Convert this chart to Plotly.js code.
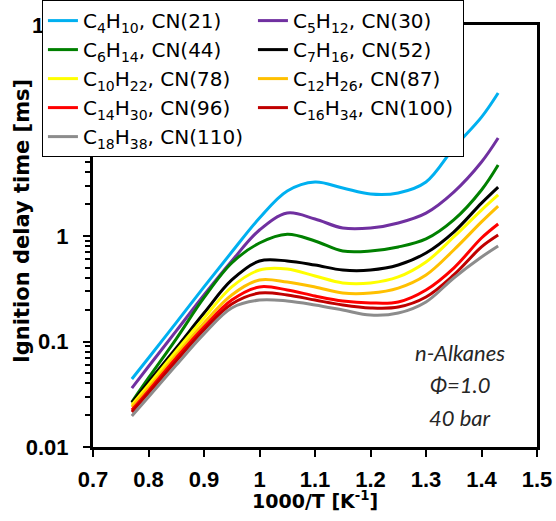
<!DOCTYPE html>
<html>
<head>
<meta charset="utf-8">
<script src="https://cdn.plot.ly/plotly-3.0.1.min.js"></script>
<style>
html,body{margin:0;padding:0;background:#fff;}
#chart{width:556px;height:521px;}
</style>
</head>
<body>
<div id="chart"></div>
<script>
// 1000/T [1/K]
const invT = [0.77, 0.80, 0.85, 0.90, 0.95, 1.00, 1.05, 1.10, 1.15, 1.20, 1.25, 1.30, 1.35, 1.40, 1.43];

// Ignition delay times [ms]
const C4H10  = [0.0441, 0.0698, 0.151, 0.329, 0.705, 1.48, 2.67, 3.25, 2.85, 2.50, 2.56, 3.25, 6.83, 13.4, 22.7];
const C5H12  = [0.0362, 0.058, 0.126, 0.276, 0.580, 1.14, 1.65, 1.45, 1.19, 1.19, 1.33, 1.65, 2.61, 5.03, 8.49];
const C6H14  = [0.0267, 0.0451, 0.106, 0.260, 0.555, 0.858, 1.04, 0.897, 0.721, 0.721, 0.787, 0.937, 1.42, 2.73, 4.71];
const C7H16  = [0.0263, 0.0413, 0.0868, 0.186, 0.383, 0.580, 0.580, 0.531, 0.476, 0.476, 0.531, 0.690, 1.09, 2.05, 2.91];
const C10H22 = [0.0250, 0.0387, 0.0813, 0.167, 0.329, 0.476, 0.487, 0.418, 0.359, 0.359, 0.409, 0.567, 0.979, 1.76, 2.45];
const C12H26 = [0.0239, 0.0362, 0.0745, 0.150, 0.276, 0.383, 0.366, 0.329, 0.288, 0.288, 0.321, 0.427, 0.737, 1.36, 1.92];
const C14H30 = [0.0224, 0.0340, 0.0698, 0.137, 0.247, 0.329, 0.308, 0.270, 0.242, 0.232, 0.237, 0.308, 0.497, 0.957, 1.30];
const C16H34 = [0.0215, 0.0325, 0.0653, 0.129, 0.227, 0.288, 0.276, 0.247, 0.222, 0.208, 0.212, 0.264, 0.427, 0.787, 1.02];
const C18H38 = [0.0197, 0.0298, 0.0598, 0.118, 0.208, 0.247, 0.242, 0.222, 0.199, 0.178, 0.186, 0.237, 0.400, 0.632, 0.804];

const seriesNames = [
  'C<sub>4</sub>H<sub>10</sub>, CN(21)',
  'C<sub>5</sub>H<sub>12</sub>, CN(30)',
  'C<sub>6</sub>H<sub>14</sub>, CN(44)',
  'C<sub>7</sub>H<sub>16</sub>, CN(52)',
  'C<sub>10</sub>H<sub>22</sub>, CN(78)',
  'C<sub>12</sub>H<sub>26</sub>, CN(87)',
  'C<sub>14</sub>H<sub>30</sub>, CN(96)',
  'C<sub>16</sub>H<sub>34</sub>, CN(100)',
  'C<sub>18</sub>H<sub>38</sub>, CN(110)'
];
const seriesValues = [C4H10, C5H12, C6H14, C7H16, C10H22, C12H26, C14H30, C16H34, C18H38];
const seriesColors = ['#00B0F0', '#7030A0', '#008000', '#000000', '#FFFF00', '#FFC000', '#FF0000', '#C00000', '#8C8C8C'];

const xTickVals = [0.7, 0.8, 0.9, 1.0, 1.1, 1.2, 1.3, 1.4, 1.5];
const xTickText = ['0.7', '0.8', '0.9', '1', '1.1', '1.2', '1.3', '1.4', '1.5'];
const yTickVals = [0.01, 0.1, 1, 10, 100];
const yTickText = ['0.01', '0.1', '1', '10', '100'];

const xTitle = '1000/T [K<sup>-1</sup>]';
const yTitle = 'Ignition delay time [ms]';
const annotationLines = ['n-Alkanes', 'Φ=1.0', '40 bar'];

const traces = seriesValues.map((vals, i) => ({
  x: invT,
  y: vals,
  name: seriesNames[i],
  type: 'scatter',
  mode: 'lines',
  line: {color: seriesColors[i], width: 3, shape: 'spline', smoothing: 1}
}));

const tickFont = {family: 'Liberation Sans, Arial, sans-serif', size: 22, color: '#000', weight: 'bold'};
const titleFam = 'DejaVu Sans, sans-serif';

const annos = annotationLines.map((t, i) => ({
  text: t,
  xref: 'paper', yref: 'paper',
  x: 0.827, y: [0.223, 0.147, 0.071][i],
  xanchor: 'center', yanchor: 'middle',
  showarrow: false,
  font: {family: 'Lato, sans-serif', size: 22, color: '#262626', style: 'italic'}
}));
annos.push({
  text: xTitle, xref: 'paper', yref: 'paper', x: 0.5, y: -0.1256,
  xanchor: 'center', yanchor: 'middle', showarrow: false,
  font: {family: titleFam, size: 19, color: '#000', weight: 'bold'}
});
annos.push({
  text: yTitle, xref: 'paper', yref: 'paper', x: -0.16, y: 0.5355,
  xanchor: 'center', yanchor: 'middle', showarrow: false, textangle: -90,
  font: {family: titleFam, size: 21, color: '#000', weight: 'bold'}
});

const layout = {
  width: 556,
  height: 521,
  margin: {l: 93, r: 19, t: 25, b: 74, pad: 0, autoexpand: false},
  paper_bgcolor: '#fff',
  plot_bgcolor: '#fff',
  showlegend: true,
  legend: {
    orientation: 'h',
    x: -0.115, xanchor: 'left',
    y: 1.059, yanchor: 'top',
    bgcolor: '#fff',
    bordercolor: '#000',
    borderwidth: 1,
    entrywidth: 165,
    entrywidthmode: 'pixels',
    itemwidth: 30,
    font: {family: 'DejaVu Sans, sans-serif', size: 20, color: '#000'}
  },
  xaxis: {
    range: [0.7, 1.5],
    tickvals: xTickVals,
    ticktext: xTickText,
    ticks: 'outside', ticklen: 7, tickwidth: 2, tickcolor: '#000',
    ticklabelstandoff: 4,
    showline: true, linecolor: '#000', linewidth: 3, mirror: true,
    showgrid: false, zeroline: false,
    tickfont: tickFont
  },
  yaxis: {
    type: 'log',
    range: [-2, 2],
    tickvals: yTickVals,
    ticktext: yTickText,
    ticks: 'outside', ticklen: 7, tickwidth: 2, tickcolor: '#000',
    ticklabelstandoff: 10,
    minor: {ticks: 'outside', ticklen: 5, tickwidth: 2, tickcolor: '#000', dtick: 'D1', showgrid: false},
    showline: true, linecolor: '#000', linewidth: 3, mirror: true,
    showgrid: false, zeroline: false,
    tickfont: tickFont
  },
  yaxis2: {
    type: 'log',
    range: [-2, 2],
    overlaying: 'y',
    side: 'left',
    tickvals: yTickVals,
    ticks: 'inside', ticklen: 6, tickwidth: 2, tickcolor: '#000',
    showticklabels: false, showline: false, showgrid: false, zeroline: false
  },
  annotations: annos
};

Plotly.newPlot('chart', traces, layout, {displayModeBar: false, staticPlot: true});
</script>
</body>
</html>
